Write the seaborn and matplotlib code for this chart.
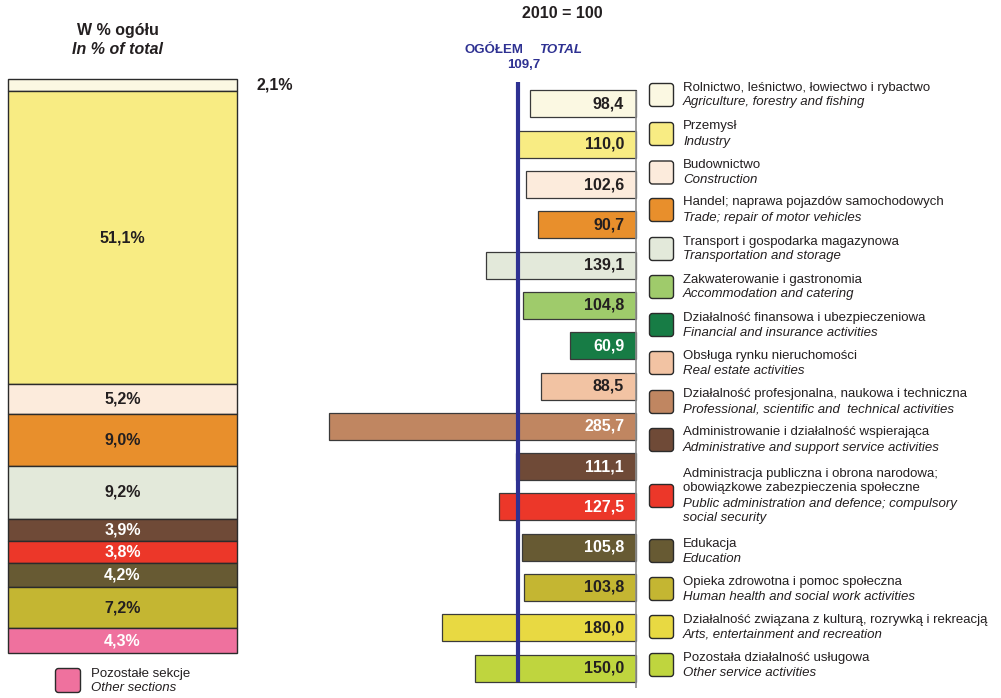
import matplotlib
matplotlib.use("Agg")
import matplotlib.pyplot as plt
from matplotlib.patches import FancyBboxPatch
import seaborn as sns
import pandas as pd

# ---------------- data ----------------
sectors_pl = [
    "Rolnictwo, leśnictwo, łowiectwo i rybactwo",
    "Przemysł",
    "Budownictwo",
    "Handel; naprawa pojazdów samochodowych",
    "Transport i gospodarka magazynowa",
    "Zakwaterowanie i gastronomia",
    "Działalność finansowa i ubezpieczeniowa",
    "Obsługa rynku nieruchomości",
    "Działalność profesjonalna, naukowa i techniczna",
    "Administrowanie i działalność wspierająca",
    "Administracja publiczna i obrona narodowa;\nobowiązkowe zabezpieczenia społeczne",
    "Edukacja",
    "Opieka zdrowotna i pomoc społeczna",
    "Działalność związana z kulturą, rozrywką i rekreacją",
    "Pozostała działalność usługowa",
]
sectors_en = [
    "Agriculture, forestry and fishing",
    "Industry",
    "Construction",
    "Trade; repair of motor vehicles",
    "Transportation and storage",
    "Accommodation and catering",
    "Financial and insurance activities",
    "Real estate activities",
    "Professional, scientific and  technical activities",
    "Administrative and support service activities",
    "Public administration and defence; compulsory\nsocial security",
    "Education",
    "Human health and social work activities",
    "Arts, entertainment and recreation",
    "Other service activities",
]
index_2010 = [98.4, 110.0, 102.6, 90.7, 139.1, 104.8, 60.9, 88.5, 285.7,
              111.1, 127.5, 105.8, 103.8, 180.0, 150.0]
total_index = 109.7
colors = ["#fbf8e2", "#f8ec83", "#fcebdc", "#e88f2c", "#e3e9da", "#9fcb6b",
          "#177c45", "#f2c3a3", "#c08661", "#6f4a37", "#ec3729", "#675a33",
          "#c4b632", "#e8d942", "#bfd53e"]
white_label = [False, False, False, False, False, False, True, False, True,
               True, True, True, False, False, False]

share_labels = ["agri", "industry", "construction", "trade", "transport",
                "admin_support", "public_admin", "education", "health", "other"]
share_values = [2.1, 51.1, 5.2, 9.0, 9.2, 3.9, 3.8, 4.2, 7.2, 4.3]
share_colors = ["#fbf8e2", "#f8ec83", "#fcebdc", "#e88f2c", "#e3e9da",
                "#6f4a37", "#ec3729", "#675a33", "#c4b632", "#ef719e"]
share_white = [False, False, False, False, False, True, True, True, False, True]

# ---------------- style ----------------
sns.set_style("white")
plt.rcParams["font.family"] = ["Liberation Sans", "DejaVu Sans"]
DARK = "#231f20"
BLUE = "#2e3192"
EDGE = "#3a3a3a"

W, H = 1001, 698
fig = plt.figure(figsize=(W / 100, H / 100), dpi=100)

def fx(px):
    return px / W

def fy(py):
    return 1 - py / H

def fmt(v):
    return f"{v:.1f}".replace(".", ",")

# ---------------- middle bar chart ----------------
base_px, scale = 636.0, 1.076
left_px = 320.0
top_px, bot_px = 83.85, 688.2
ax = fig.add_axes([fx(left_px), fy(bot_px), fx(base_px - left_px), (bot_px - top_px) / H])
df = pd.DataFrame({"sector": sectors_en, "value": index_2010})
sns.barplot(data=df, x="value", y="sector", hue="sector", palette=dict(zip(sectors_en, colors)),
            orient="h", width=0.67, saturation=1, edgecolor=EDGE, linewidth=0.9,
            legend=False, ax=ax)
ax.set_xlim((base_px - left_px) / scale, 0)
ax.set_ylim(14.5, -0.5)
ax.axis("off")
for p in ax.patches:
    p.set_clip_on(False)
ax.vlines(0, -0.32, 14.5, color="#8c8c8c", lw=1.2, clip_on=False, zorder=1)
ax.vlines(total_index, -0.546, 14.35, color=BLUE, lw=3, clip_on=False, zorder=5)
for i, v in enumerate(index_2010):
    ax.text(11, i, fmt(v), ha="right", va="center", fontsize=11.5, fontweight="bold",
            color="white" if white_label[i] else DARK, zorder=6)

# ---------------- left stacked bar ----------------
axl = fig.add_axes([fx(8), fy(653), fx(237 - 8), 574 / H])
bottom = 0.0
for lab, v, c, wh in zip(share_labels, share_values, share_colors, share_white):
    axl.bar(0, v, bottom=bottom, width=1.0, color=c, edgecolor="#2b2b2b", linewidth=1.0,
            clip_on=False)
    txt = fmt(v) + "%"
    if v < 3:
        axl.text(0.583, bottom + v / 2, txt, ha="left", va="center", fontsize=11.5,
                 fontweight="bold", color=DARK, clip_on=False)
    else:
        axl.text(0, bottom + v / 2, txt, ha="center", va="center", fontsize=11.5,
                 fontweight="bold", color="white" if wh else DARK)
    bottom += v
axl.set_xlim(-0.5, 0.5)
axl.set_ylim(100, 0)
axl.axis("off")

# ---------------- overlay: titles and legends ----------------
ov = fig.add_axes([0, 0, 1, 1], facecolor="none")
ov.set_xlim(0, W)
ov.set_ylim(H, 0)
ov.axis("off")

ov.text(118, 31, "W % ogółu", ha="center", va="center", fontsize=11.5, fontweight="bold", color=DARK)
ov.text(118, 49, "In % of total", ha="center", va="center", fontsize=11.5, fontweight="bold",
        fontstyle="italic", color=DARK)
ov.text(562, 13, "2010 = 100", ha="center", va="center", fontsize=11.5, fontweight="bold", color=DARK)
ov.text(523, 50, "OGÓŁEM", ha="right", va="center", fontsize=9.5, fontweight="bold", color=BLUE)
ov.text(539, 50, "TOTAL", ha="left", va="center", fontsize=9.5, fontweight="bold",
        fontstyle="italic", color=BLUE)
ov.text(523.5, 65, fmt(total_index), ha="center", va="center", fontsize=9.5, fontweight="bold", color=BLUE)

legend_centers = [95, 134, 172.5, 210, 249, 287, 325, 363, 402, 440, 496, 551, 589, 627, 665]
LS = 15.0
LFS = 9.5
for c, pl, en, yc in zip(colors, sectors_pl, sectors_en, legend_centers):
    ov.add_patch(FancyBboxPatch((649.5, yc - 11.5), 24, 23, boxstyle="round,pad=0,rounding_size=3",
                                facecolor=c, edgecolor="#2b2b2b", linewidth=1.0))
    pl_lines = pl.split("\n")
    en_lines = en.split("\n")
    n = len(pl_lines) + len(en_lines)
    y0 = yc - (n - 1) * LS / 2
    k = 0
    for ln in pl_lines:
        ov.text(683, y0 + k * LS, ln, ha="left", va="center", fontsize=LFS, color=DARK)
        k += 1
    for ln in en_lines:
        ov.text(683, y0 + k * LS, ln, ha="left", va="center", fontsize=LFS, color=DARK, fontstyle="italic")
        k += 1

ov.add_patch(FancyBboxPatch((55.5, 668.5), 25, 24, boxstyle="round,pad=0,rounding_size=3",
                            facecolor=share_colors[-1], edgecolor="#2b2b2b", linewidth=1.0))
ov.text(91, 673.5, "Pozostałe sekcje", ha="left", va="center", fontsize=LFS, color=DARK)
ov.text(91, 688, "Other sections", ha="left", va="center", fontsize=LFS, color=DARK, fontstyle="italic")

fig.savefig("out.png", dpi=100)
